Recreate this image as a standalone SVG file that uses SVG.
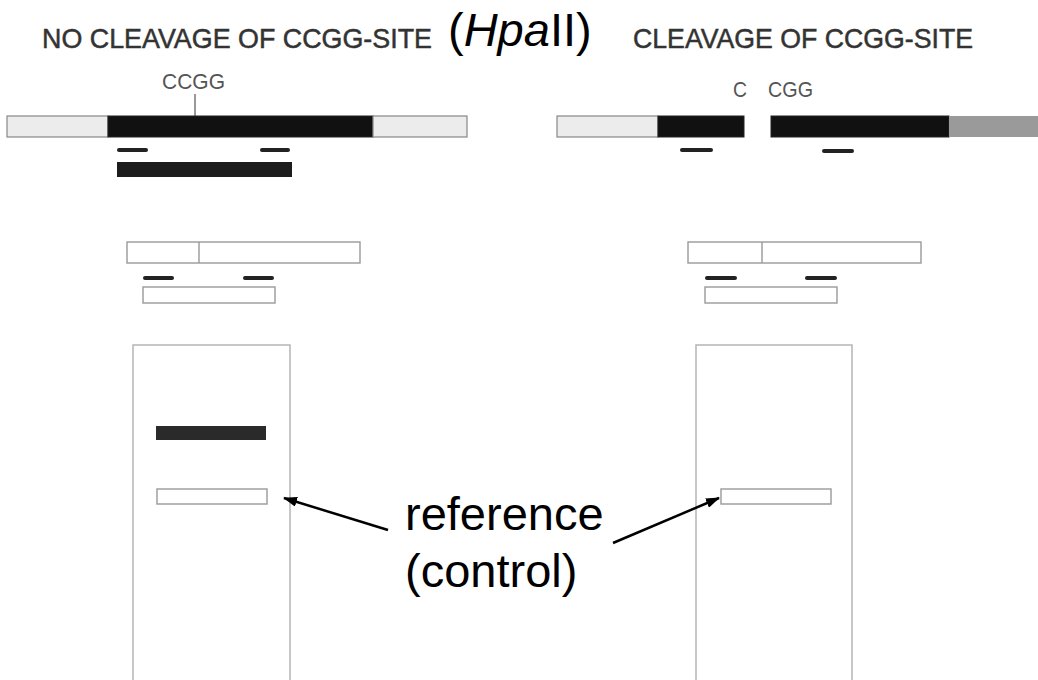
<svg xmlns="http://www.w3.org/2000/svg" width="1038" height="680" viewBox="0 0 1038 680">
<defs>
<style>
.cap{font-family:"Liberation Sans",Arial,sans-serif;fill:#333;stroke:#333;stroke-width:0.5;}
.seq{font-family:"Liberation Sans",Arial,sans-serif;fill:#555;font-size:22px;}
.lbl{font-family:"Liberation Sans",Arial,sans-serif;fill:#000;font-size:47px;}
.light{fill:#ececec;stroke:#888;stroke-width:1.2;}
.blk{fill:#111;stroke:#222;stroke-width:1;}
.open{fill:#fff;stroke:#999;stroke-width:1.4;}
.lane{fill:#fff;stroke:#b5b5b5;stroke-width:1.5;}
.primer{stroke:#222;stroke-width:4;stroke-linecap:round;}
.conn{stroke:#000;stroke-width:2.5;fill:none;marker-end:url(#ah);}
</style>
<marker id="ah" markerWidth="14" markerHeight="10" refX="13" refY="5" orient="auto" markerUnits="userSpaceOnUse" viewBox="0 0 14 10">
<path d="M0,0 L14,5 L0,10 z" fill="#000"/>
</marker>
</defs>
<rect width="1038" height="680" fill="#fff"/>

<g id="titles">
<text class="cap" x="42" y="48" font-size="28" textLength="390" lengthAdjust="spacingAndGlyphs">NO  CLEAVAGE  OF  CCGG-SITE</text>
<text class="lbl" x="448" y="46"><tspan>(</tspan><tspan font-style="italic">Hpa</tspan><tspan>II)</tspan></text>
<text class="cap" x="633" y="48" font-size="28" textLength="340" lengthAdjust="spacingAndGlyphs">CLEAVAGE  OF  CCGG-SITE</text>
</g>

<g id="left-dna">
<text class="seq" x="162" y="89" textLength="63" lengthAdjust="spacingAndGlyphs">CCGG</text>
<line x1="195" y1="94" x2="195" y2="116" stroke="#555" stroke-width="1.2"/>
<rect class="light" x="7" y="116" width="101" height="21"/>
<rect class="blk" x="108" y="116" width="265" height="21"/>
<rect class="light" x="373" y="116" width="94" height="21"/>
<line class="primer" x1="119" y1="150" x2="146" y2="150"/>
<line class="primer" x1="262" y1="150" x2="288" y2="150"/>
<rect x="117" y="162" width="175" height="15" fill="#1c1c1c"/>
</g>

<g id="right-dna">
<text class="seq" x="733" y="97" textLength="14" lengthAdjust="spacingAndGlyphs">C</text>
<text class="seq" x="768" y="97" textLength="45" lengthAdjust="spacingAndGlyphs">CGG</text>
<rect class="light" x="557" y="116" width="101" height="21"/>
<rect class="blk" x="658" y="116" width="86" height="21"/>
<rect class="blk" x="771" y="116" width="178" height="21"/>
<rect x="949" y="116" width="89" height="21" fill="#9a9a9a"/>
<line class="primer" x1="682" y1="150" x2="711" y2="150"/>
<line class="primer" x1="824" y1="151" x2="852" y2="151"/>
</g>

<g id="left-probe">
<rect class="open" x="127" y="242" width="233" height="21"/>
<line x1="199" y1="242" x2="199" y2="263" stroke="#999" stroke-width="1.4"/>
<line class="primer" x1="145" y1="278" x2="172" y2="278"/>
<line class="primer" x1="245" y1="278" x2="272" y2="278"/>
<rect class="open" x="143" y="287" width="132" height="16"/>
</g>

<g id="right-probe">
<rect class="open" x="688" y="242" width="233" height="21"/>
<line x1="762" y1="242" x2="762" y2="263" stroke="#999" stroke-width="1.4"/>
<line class="primer" x1="707" y1="278" x2="735" y2="278"/>
<line class="primer" x1="807" y1="278" x2="835" y2="278"/>
<rect class="open" x="705" y="287" width="132" height="16"/>
</g>

<g id="left-lane">
<path class="lane" d="M133,682 L133,345 L290,345 L290,682"/>
<rect x="156" y="426" width="110" height="14" fill="#2a2a2a"/>
<rect class="open" x="157" y="489" width="110" height="15"/>
</g>

<g id="right-lane">
<path class="lane" d="M696,682 L696,345 L852,345 L852,682"/>
<rect class="open" x="721" y="489" width="110" height="15"/>
</g>

<g id="label">
<text class="lbl" x="405" y="530">reference</text>
<text class="lbl" x="405" y="587">(control)</text>
</g>

<g id="connectors">
<line class="conn" x1="388" y1="530" x2="284" y2="498"/>
<line class="conn" x1="613" y1="543" x2="719" y2="498"/>
</g>
</svg>
